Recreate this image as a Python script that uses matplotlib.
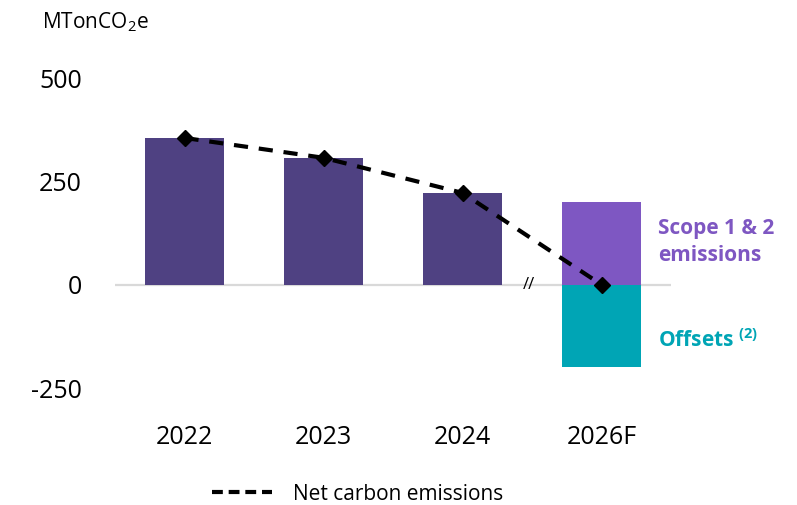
import matplotlib
matplotlib.use("Agg")
import matplotlib.pyplot as plt

plt.rcParams['font.family'] = ['Open Sans', 'DejaVu Sans']
plt.rcParams['mathtext.fontset'] = 'custom'
plt.rcParams['mathtext.rm'] = 'Open Sans'
plt.rcParams['mathtext.bf'] = 'Open Sans:bold'

categories = ["2022", "2023", "2024", "2026F"]
gross_emissions = [355, 307, 222, 200]
offsets = [0, 0, 0, -200]
net_emissions = [355, 307, 222, 0]
y_ticks = [500, 250, 0, -250]

dark_purple = "#4f4182"
light_purple = "#7e57c2"
teal = "#00a5b5"

fig = plt.figure(figsize=(7.97, 5.05), dpi=100)
ax = fig.add_axes([115/797, 1-388/505, 556/797, 310/505])

x = list(range(len(categories)))
bar_colors = [dark_purple, dark_purple, dark_purple, light_purple]
ax.bar(x, gross_emissions, width=0.575, color=bar_colors, zorder=2)
ax.bar(x, offsets, width=0.575, color=teal, zorder=2)
ax.axhline(0, color="#d9d9d9", lw=1.6, zorder=1)

line, = ax.plot(x, net_emissions, color="black", lw=3, ls=(0, (3.4, 2.6)),
                marker="D", markersize=8.5, zorder=3, label="Net carbon emissions")

ax.set_xlim(-0.5, 3.5)
ax.set_ylim(-250, 500)
ax.set_xticks(x)
ax.set_xticklabels(categories, fontsize=18)
ax.set_yticks(y_ticks)
ax.set_yticklabels([str(v) for v in y_ticks], fontsize=18)
ax.tick_params(axis='both', length=0)
ax.tick_params(axis='y', pad=24)
ax.tick_params(axis='x', pad=27)
for s in ax.spines.values():
    s.set_visible(False)

ax.text(2.475, 0, "//", fontsize=12, ha="center", va="center", color="black")

ax.text(3.41, 103, "Scope 1 & 2\nemissions", color=light_purple, fontsize=15,
        fontweight="bold", ha="left", va="center", linespacing=1.35, clip_on=False)
ax.text(3.41, -134, "Offsets $^{\\mathbf{(2)}}$", color=teal, fontsize=15,
        fontweight="bold", ha="left", va="center", clip_on=False)

fig.text(42/797, 1-22/505, "MTonCO$_2$e", fontsize=15, ha="left", va="center")

leg = fig.legend(handles=[line], loc="center left", bbox_to_anchor=(193/797, 1-494/505),
                 frameon=False, fontsize=15, handlelength=2.9, handletextpad=1.0)
for h in leg.legend_handles:
    h.set_marker("")
    h.set_linestyle((0, (2.6, 1.4)))

fig.savefig("out.png", dpi=100)
